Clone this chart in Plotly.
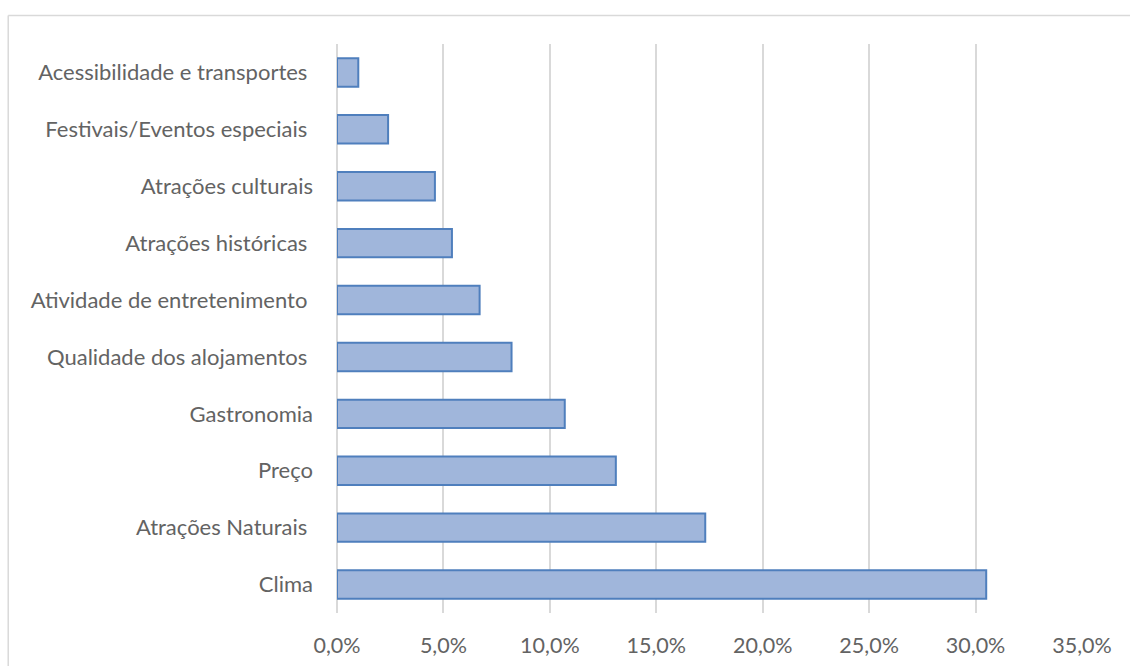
import plotly.graph_objects as go

categories = [
    "Clima",
    "Atrações Naturais\u00a0",
    "Preço",
    "Gastronomia",
    "Qualidade dos alojamentos\u00a0",
    "Atividade de entretenimento\u00a0",
    "Atrações históricas\u00a0",
    "Atrações culturais",
    "Festivais/Eventos especiais\u00a0",
    "Acessibilidade e transportes\u00a0",
]
values = [0.305, 0.173, 0.131, 0.107, 0.082, 0.067, 0.054, 0.046, 0.024, 0.010]
x_ticks = [0, 0.05, 0.10, 0.15, 0.20, 0.25, 0.30, 0.35]

W, H = 1130, 666
L, R, T, B = 336.5, 48, 43.5, 52.5
pw, ph = W - L - R, H - T - B

fig = go.Figure(
    go.Bar(
        y=categories,
        x=values,
        orientation="h",
        marker=dict(color="#A0B6DB", line=dict(color="#4F7FBD", width=2)),
        width=0.5,
        hoverinfo="skip",
    )
)

font_family = "Lato, 'Open Sans', sans-serif"

fig.update_layout(
    width=W,
    height=H,
    margin=dict(l=L, r=R, t=T, b=B, autoexpand=False),
    paper_bgcolor="white",
    plot_bgcolor="white",
    separators=",.",
    showlegend=False,
    font=dict(family=font_family, size=21, color="#636363"),
    bargap=0.5,
)
fig.update_xaxes(
    range=[0, 0.35],
    tickvals=x_ticks,
    tickformat=".1%",
    showgrid=True,
    gridcolor="#D9D9D9",
    gridwidth=1.5,
    zeroline=True,
    zerolinecolor="#D9D9D9",
    zerolinewidth=1.5,
    showline=False,
    ticks="",
    ticklabelstandoff=17,
    tickfont=dict(size=21.5, color="#636363"),
    fixedrange=True,
)
fig.update_yaxes(
    categoryorder="array",
    categoryarray=categories,
    showgrid=False,
    showline=False,
    ticks="",
    ticklabelstandoff=23,
    tickfont=dict(size=22, color="#636363"),
    fixedrange=True,
)

# chart-area border (as in the source: left and top edges visible)
bx = (7.5 - L) / pw
by_top = (H - B - 15) / ph
by_bot = (H - B - H - 5) / ph
bx_right = (W + 5 - L) / pw
fig.add_shape(type="line", xref="paper", yref="paper", x0=bx, x1=bx, y0=by_bot, y1=by_top,
              line=dict(color="#D9D9D9", width=1.5))
fig.add_shape(type="line", xref="paper", yref="paper", x0=bx, x1=bx_right, y0=by_top, y1=by_top,
              line=dict(color="#D9D9D9", width=1.5))

fig.write_html(
    "out.html",
    config={"displayModeBar": False},
    post_script="document.body.style.margin='0';document.body.style.overflow='hidden';",
)
